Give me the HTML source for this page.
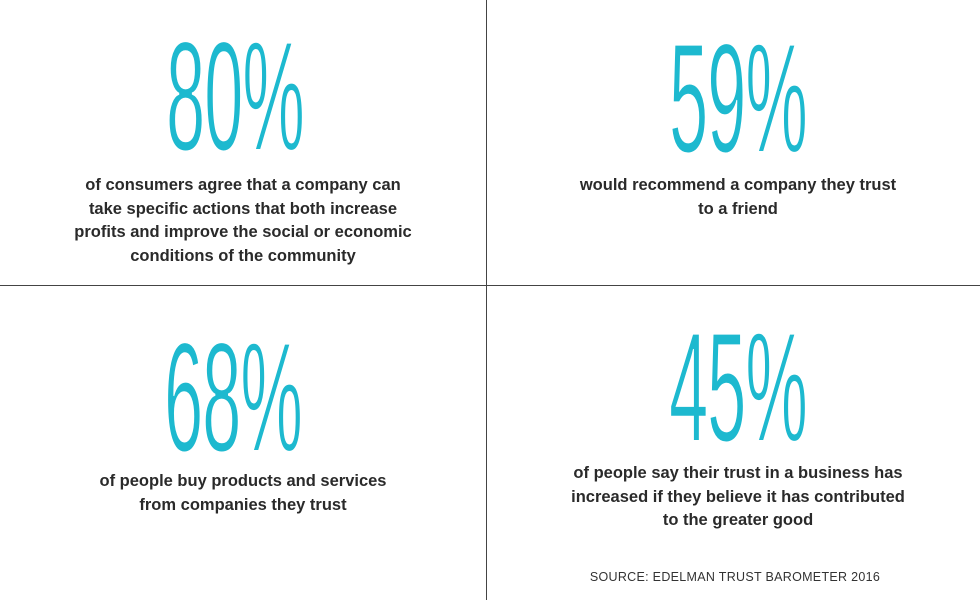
<!DOCTYPE html>
<html><head><meta charset="utf-8"><style>
html,body{margin:0;padding:0;background:#fff;}
#wrap{position:relative;width:980px;height:600px;overflow:hidden;font-family:"Liberation Sans",sans-serif;}
.vline{position:absolute;left:486px;top:0;width:1px;height:600px;background:#444;}
.hline{position:absolute;left:0;top:285px;width:980px;height:1px;background:#444;}
.num{position:absolute;width:400px;text-align:center;font-size:156px;line-height:156px;color:#1db9cf;transform:scaleX(0.45);transform-origin:center top;letter-spacing:-2px;-webkit-text-stroke:2px #fff;}
.txt{position:absolute;width:440px;text-align:center;font-size:16.5px;line-height:23.5px;color:#2a2a2a;font-weight:bold;}
.src{position:absolute;left:560px;top:570px;width:350px;text-align:center;font-size:12.5px;color:#333;letter-spacing:0.3px;}
</style></head><body>
<div id="wrap">
<div class="vline"></div>
<div class="hline"></div>

<div class="num" style="left:35px;top:19px;">80%</div>
<div class="txt" style="left:23px;top:174px;">of consumers agree that a company can<br>take specific actions that both increase<br>profits and improve the social or economic<br>conditions of the community</div>

<div class="num" style="left:538px;top:21px;">59%</div>
<div class="txt" style="left:518px;top:174px;">would recommend a company they trust<br>to a friend</div>

<div class="num" style="left:33px;top:320px;">68%</div>
<div class="txt" style="left:23px;top:470px;">of people buy products and services<br>from companies they trust</div>

<div class="num" style="left:538px;top:310px;">45%</div>
<div class="txt" style="left:518px;top:462px;">of people say their trust in a business has<br>increased if they believe it has contributed<br>to the greater good</div>

<div class="src">SOURCE: EDELMAN TRUST BAROMETER 2016</div>
</div>
</body></html>
